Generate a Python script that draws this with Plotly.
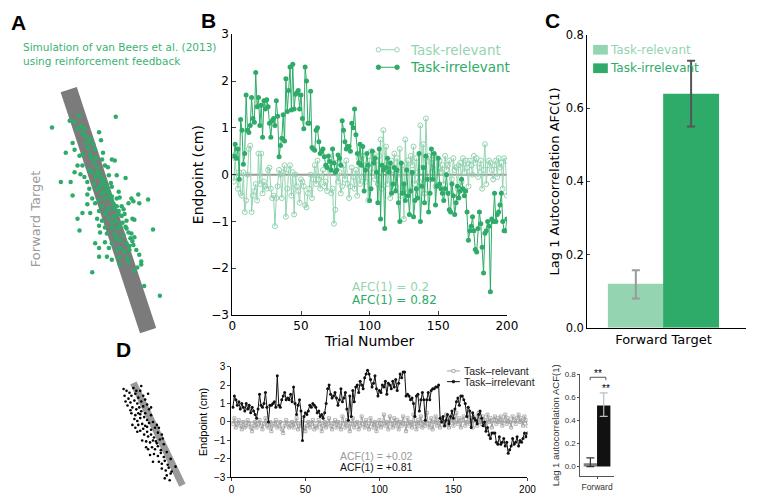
import plotly.graph_objects as go

W, H = 759, 497

# ---------------- DATA ----------------
trials = list(range(1, 201))

b_relevant = [
    -0.15, 0.35, -0.05, -0.30, 0.05, -0.40, -0.45, 0.05, -0.80, -0.55,
    0.00, 0.55, 0.62, -0.80, -0.45, -0.35, -0.20, -0.55, 0.45, -0.20,
    0.45, -0.40, -0.15, -0.25, -0.30, 0.10, 0.15, -0.30, -0.50, -0.45,
    -1.10, -0.50, -0.25, 0.10, 0.00, -0.50, 0.05, 0.20, -0.90, -0.30,
    0.10, 0.20, -0.45, 0.05, -0.85, 0.00, -0.25, -0.35, -0.60, -0.10,
    -0.15, -0.25, -0.65, -0.70, -0.40, -0.30, 0.00, -0.50, -0.10, 0.20,
    -0.20, 0.30, -0.10, -0.30, -0.05, 0.10, -0.25, -0.15, -0.35, 0.15,
    0.10, -0.40, -0.30, -1.05, -0.75, 0.25, -0.15, 0.05, -0.40, -0.25,
    0.20, -0.10, 0.30, -0.20, -0.50, -0.25, 0.15, -0.05, -0.30, 0.10,
    -0.45, 0.35, -0.20, -0.05, 0.40, 0.20, -0.15, 0.15, -0.55, 0.30,
    0.50, 0.05, 0.45, -0.10, 0.30, -0.20, 0.40, 0.75, -0.30, 0.95,
    0.20, 0.60, -0.20, 0.05, -0.50, 0.30, 0.10, 0.45, -0.25, 0.35,
    0.00, 0.55, -0.45, 0.20, -0.95, 0.75, 0.10, 0.30, -0.35, 0.40,
    0.20, 0.60, -0.20, 0.35, 0.05, -0.15, 1.05, 0.15, 0.65, -0.40,
    1.20, 0.30, 0.40, -0.10, 0.25, 0.05, 0.40, -0.25, 0.35, 0.15,
    0.30, 0.05, 0.20, -0.20, 0.40, 0.10, 0.20, 0.30, -0.40, -0.10,
    0.35, 0.10, 0.15, -0.30, 0.20, 0.25, -0.15, 0.35, 0.05, 0.30,
    0.15, -0.25, 0.30, 0.20, 0.00, 0.40, 0.25, 0.35, -0.05, 0.15,
    0.30, -0.30, 0.10, 0.65, -0.20, 0.20, 0.30, 0.25, 0.10, -0.10,
    0.20, 0.30, -0.05, 0.35, 0.15, 0.25, -0.30, 0.35, 0.30, -0.45,
]

b_irrelevant = [
    0.40, 0.65, 0.35, 0.55, -0.10, 1.18, 0.95, 0.22, 0.45, 1.70,
    0.95, 0.90, 1.05, 1.65, 1.20, 1.12, 2.18, 1.45, 1.65, 1.05,
    1.48, 0.80, 1.58, 1.40, 1.60, 1.45, 1.10, 0.80, 1.15, 1.20,
    1.05, 1.58, 1.25, 0.38, 0.62, 0.78, 1.28, 0.72, 2.05, 1.35,
    1.80, 2.30, 1.38, 2.36, 1.40, 1.72, 1.75, 1.80, 1.40, 1.70,
    1.20, 0.98, 2.30, 2.00, 1.10, 1.10, 1.78, 0.58, 0.55, 0.52,
    0.95, 1.00, 0.70, 0.45, 0.50, 0.55, 0.38, 0.20, 0.15, 0.40,
    0.28, 0.10, 0.55, 0.25, 0.05, 0.10, 0.42, 0.35, 0.20, 1.15,
    0.95, 0.70, 0.55, 0.60, 0.60, 0.50, 1.10, 1.00, 1.40, 0.85,
    0.45, 0.25, 0.65, 0.20, 0.60, -0.35, 0.10, 0.45, 0.20, -0.55,
    -0.30, 0.50, 0.25, 0.35, 0.05, -0.60, 0.55, -0.95, 0.20, 0.10,
    -1.15, 0.15, 0.35, 0.05, 0.25, -0.40, -0.20, 0.15, -0.35, 0.10,
    -0.60, -1.00, 0.25, -0.40, -0.20, -0.55, 0.10, -0.45, -0.85, -0.35,
    0.05, -0.90, -0.55, -0.30, -0.50, 0.45, -1.00, -0.25, 0.15, -0.60,
    0.40, -0.10, -0.80, -0.40, 0.55, -0.10, 0.45, -0.65, -0.25, 0.35,
    -0.20, -0.30, -0.40, -0.55, -0.30, 0.00, -0.40, -0.75, -0.80, -0.20,
    -0.45, -0.85, -0.60, -0.25, -0.50, -0.35, -0.10, -0.30, -0.45, -0.35,
    -0.80, -1.40, -1.20, -1.10, -0.90, -1.20, -1.60, -1.65, -1.15, -0.80,
    -1.05, -1.55, -2.10, -1.25, -1.20, -1.00, -1.10, -2.50, -0.95, -1.00,
    -0.40, -1.00, -0.85, -0.80, -0.65, -0.40, -1.00, -1.20, -1.20, -0.95,
]

d_relevant = [
    -0.1, 0.2, -0.3, -0.1, 0.1, -0.2, -0.4, 0.0, -0.3, -0.2,
    0.1, -0.1, -0.3, -0.5, -0.2, 0.0, -0.3, -0.1, 0.1, -0.2,
    -0.4, -0.1, 0.2, -0.2, -0.3, 0.0, -0.5, -0.2, -0.1, 0.1,
    -0.3, -0.2, 0.0, -0.4, -0.6, -0.2, 0.1, -0.1, -0.3, -0.2,
    0.0, -0.3, -0.1, 0.2, -0.4, -0.2, -0.1, 0.1, -0.3, -0.5,
    -0.2, 0.0, -0.3, -0.1, 0.1, -0.4, -0.2, -0.3, 0.1, -0.1,
    -0.5, -0.2, 0.0, -0.3, -0.1, 0.2, -0.2, -0.4, -0.1, 0.1,
    -0.3, 0.0, -0.2, -0.4, 0.3, -0.1, -0.3, 0.1, -0.2, -0.5,
    -0.1, 0.2, -0.3, -0.1, 0.0, -0.4, -0.2, 0.3, -0.1, -0.3,
    0.1, -0.2, -0.4, 0.2, -0.1, -0.3, 0.0, -0.5, -0.2, 0.1,
    -0.3, -0.1, 0.4, -0.2, 0.0, -0.4, 0.3, -0.1, -0.3, 0.2,
    -0.2, 0.1, -0.4, 0.0, -0.2, 0.3, -0.1, -0.5, 0.2, -0.2,
    0.0, -0.3, 0.4, -0.1, -0.4, 0.1, -0.2, 0.3, -0.3, 0.0,
    -0.2, 0.5, -0.1, -0.3, 0.2, -0.4, 0.0, 0.3, -0.2, 0.1,
    -0.3, 0.2, 0.0, -0.2, 0.4, -0.1, -0.3, 0.1, 0.3, -0.2,
    0.0, 0.5, -0.1, 0.2, -0.3, 0.1, 0.3, -0.2, 0.0, 0.4,
    -0.1, 0.2, -0.3, 0.1, 0.3, -0.2, 0.5, 0.0, -0.1, 0.3,
    0.1, -0.2, 0.4, 0.0, 0.2, -0.3, 0.1, 0.3, -0.1, 0.2,
    0.0, 0.3, -0.2, 0.1, 0.4, -0.1, 0.2, 0.0, -0.3, 0.3,
    0.1, -0.1, 0.2, 0.4, 0.0, 0.2, -0.2, 0.3, 0.1, -0.2,
]

d_irrelevant = [
    0.8, 1.4, 1.2, 0.9, 1.1, 0.7, 1.0, 0.8, 0.6, 1.0,
    0.7, 0.9, 0.5, 0.8, 0.6, 0.4, 0.2, 0.7, 1.5, 0.9,
    0.8, 1.0, 1.6, 0.8, 0.0, 0.9, 0.9, 1.0, 1.1, 0.8,
    2.5, 0.9, 0.8, 1.2, 1.4, 1.6, 1.2, 1.3, 1.2, 1.5,
    1.1, 1.9, 1.0, 0.4, 0.9, 1.2, 0.6, -1.0, 0.3, 0.5,
    0.4, 0.6, 0.9, 0.8, 1.0, 0.9, 0.8, 0.5, 0.6, 0.3,
    0.4, 0.2, 0.5, 1.0, 1.8, 2.0, 1.5, 1.3, 1.4, 1.6,
    1.3, 0.9, 1.2, 1.8, 1.1, 1.3, 1.6, 0.7, 0.1, 1.4,
    0.3, 1.7, 1.1, 1.9, 2.0, 1.6, 2.2, 2.0, 1.8, 2.4,
    2.6, 2.8, 2.6, 2.3, 1.9, 2.1, 2.5, 1.8, 1.4, 1.7,
    1.6, 2.0, 1.9, 2.2, 1.5, 2.1, 2.0, 1.8, 2.2, 1.9,
    2.3, 1.7, 2.1, 2.6, 2.4, 2.7, 2.7, 1.4, 1.5, 1.4,
    1.2, 1.3, 1.0, 0.3, 1.4, 1.5, 0.6, 1.2, 1.6, 1.2,
    0.1, 1.2, 1.6, 1.2, 1.7, 1.8, 1.8, 1.9, 1.9, 2.0,
    0.2, 0.0, 0.3, -0.2, 0.1, 0.4, -0.1, 0.3, 0.6, 0.2,
    0.7, 1.1, 1.3, 0.9, 1.4, 1.4, 1.2, 1.0, 0.3, 0.8,
    0.6, -0.3, 0.5, 0.2, 0.1, -0.1, 0.4, 0.6, 0.2, -0.2,
    0.0, -0.5, -0.3, -0.7, -0.9, -0.6, -0.6, -0.6, -1.1, -1.2,
    -0.8, -1.2, -1.1, -0.9, -1.3, -1.1, -1.7, -1.5, -1.3, -0.9,
    -1.2, -1.1, -0.8, -1.3, -1.0, -1.1, -0.9, -0.6, -0.8, -0.6,
]

# Panel A scatter (panel coordinate frame)
a_x = [49, 114, 67, 72, 77, 79, 97, 83, 87, 99, 70, 63, 72, 77, 80, 88, 93, 100, 110, 113,
       103, 75, 80, 87, 72, 78, 82, 90, 97, 107, 115, 124, 58, 68, 85, 92, 100, 103, 110, 87,
       95, 102, 107, 117, 70, 85, 90, 97, 103, 110, 115, 130, 137, 147, 127, 132, 138, 85, 93, 100,
       107, 113, 120, 80, 88, 97, 103, 112, 117, 123, 75, 95, 100, 107, 115, 125, 133, 77, 97, 103,
       110, 118, 125, 152, 98, 105, 113, 122, 130, 133, 93, 103, 110, 118, 125, 132, 97, 107, 115, 123,
       97, 105, 110, 117, 118, 127, 140, 140, 90, 133, 143, 159,
       75, 80, 84, 86, 89, 92, 95, 96, 99, 101, 104, 106, 108, 110, 112, 115, 117, 120, 121, 124,
       127, 129, 131, 135, 128, 138, 91, 94, 98, 105, 111, 114, 119, 126, 136, 82, 88, 101, 106, 100,
       93, 109, 118, 122, 131, 116, 128]
a_y = [124, 113, 117, 118, 112, 123, 129, 133, 137, 137, 140, 150, 147, 153, 152, 152, 147, 157, 157, 158,
       163, 163, 163, 168, 170, 172, 175, 170, 173, 173, 173, 176, 180, 180, 180, 182, 182, 180, 185, 187,
       188, 190, 192, 190, 194, 193, 197, 198, 197, 200, 197, 197, 193, 198, 202, 200, 202, 203, 202, 205,
       207, 208, 205, 212, 212, 210, 213, 215, 213, 213, 218, 218, 220, 218, 220, 220, 219, 230, 225, 227,
       227, 225, 228, 229, 232, 233, 233, 235, 233, 237, 243, 242, 243, 240, 243, 245, 248, 248, 250, 252,
       257, 257, 260, 258, 265, 263, 262, 265, 273, 272, 287, 297,
       125, 130, 140, 145, 155, 160, 165, 170, 175, 178, 185, 188, 195, 195, 203, 205, 210, 215, 222, 226,
       232, 238, 241, 250, 250, 255, 141, 155, 185, 210, 222, 238, 248, 258, 268, 125, 135, 150, 165, 192,
       175, 181, 196, 208, 218, 228, 246]
a_target_x = [66, 147]
a_target_y = [85, 333]

# Panel D (left) scatter
d_sc_x = [122, 125, 132, 140, 139, 123, 127, 130, 134, 137, 142, 129, 133, 136, 140, 144, 126, 131, 135, 138,
          142, 146, 130, 134, 137, 140, 144, 148, 133, 136, 139, 143, 146, 150, 131, 137, 141, 144, 148, 152,
          139, 142, 146, 150, 154, 143, 147, 150, 153, 157, 145, 149, 152, 156, 159, 151, 154, 157, 160, 163,
          153, 157, 160, 163, 166, 158, 161, 164, 167, 161, 165, 168, 171, 166, 170, 128, 135, 147, 124, 150,
          156, 161, 136, 145, 152, 170, 175, 164, 129, 139, 146, 155, 158, 147, 141, 134, 149, 162, 169]
d_sc_y = [393, 395, 392, 390, 395, 400, 403, 400, 398, 402, 400, 407, 405, 408, 406, 404, 410, 412, 414, 412,
          411, 409, 418, 420, 418, 416, 418, 414, 424, 426, 423, 422, 425, 420, 430, 430, 429, 431, 428, 427,
          436, 434, 437, 435, 433, 440, 442, 440, 443, 438, 447, 448, 446, 449, 445, 453, 455, 452, 456, 450,
          460, 462, 459, 463, 458, 468, 470, 467, 471, 475, 477, 474, 478, 482, 480, 397, 395, 398, 406, 412,
          430, 440, 437, 453, 468, 465, 473, 485, 415, 419, 432, 447, 433, 455, 446, 433, 461, 444, 487]
d_target_x = [132, 182]
d_target_y = [387, 492]

# Panel C bars
c_labels = ["Task-relevant", "Task-irrelevant"]
c_values = [0.12, 0.64]
c_err_lo = [0.08, 0.55]
c_err_hi = [0.157, 0.73]

# Panel D (right) bars
dr_values = [0.03, 0.53]
dr_err_lo = [0.0, 0.435]
dr_err_hi = [0.075, 0.64]

# ---------------- STYLE ----------------
LIGHT = "#94d4b1"
DARK = "#2eab68"
TXT_GREEN = "#3cb371"
GRAY_T = "#7b7b7b"
FONT = "DejaVu Sans"
ARIAL = "Liberation Sans"


def px(x):
    return x / W


def py(y):
    return 1 - y / H


fig = go.Figure()

# ---- Panel A ----
fig.add_trace(go.Scatter(x=a_target_x, y=a_target_y, mode="lines",
                         line=dict(color=GRAY_T, width=17), xaxis="x", yaxis="y",
                         hoverinfo="skip"))
fig.add_trace(go.Scatter(x=a_x, y=a_y, mode="markers",
                         marker=dict(color=DARK, size=4.5), xaxis="x", yaxis="y"))

# ---- Panel B ----
fig.add_trace(go.Scatter(x=trials, y=b_relevant, mode="lines+markers",
                         line=dict(color=LIGHT, width=1),
                         marker=dict(symbol="circle-open", size=5, color=LIGHT, line=dict(width=1)),
                         xaxis="x2", yaxis="y2"))
fig.add_trace(go.Scatter(x=trials, y=b_irrelevant, mode="lines+markers",
                         line=dict(color=DARK, width=1),
                         marker=dict(symbol="circle", size=5, color=DARK),
                         xaxis="x2", yaxis="y2"))

# ---- Panel C ----
fig.add_trace(go.Bar(x=[0.306], y=[c_values[0]], width=[0.352],
                     marker=dict(color=LIGHT, line=dict(width=0)),
                     error_y=dict(type="data", symmetric=False,
                                  array=[c_err_hi[0] - c_values[0]],
                                  arrayminus=[c_values[0] - c_err_lo[0]],
                                  color="#9a9a9a", thickness=2, width=4),
                     xaxis="x3", yaxis="y3"))
fig.add_trace(go.Bar(x=[0.654], y=[c_values[1]], width=[0.352],
                     marker=dict(color=DARK, line=dict(width=0)),
                     error_y=dict(type="data", symmetric=False,
                                  array=[c_err_hi[1] - c_values[1]],
                                  arrayminus=[c_values[1] - c_err_lo[1]],
                                  color="#555555", thickness=2, width=4),
                     xaxis="x3", yaxis="y3"))

# ---- Panel D left ----
fig.add_trace(go.Scatter(x=d_target_x, y=d_target_y, mode="lines",
                         line=dict(color="#9a9a9a", width=7), xaxis="x4", yaxis="y4"))
fig.add_trace(go.Scatter(x=d_sc_x, y=d_sc_y, mode="markers",
                         marker=dict(color="black", size=2.6), xaxis="x4", yaxis="y4"))

# ---- Panel D middle ----
fig.add_trace(go.Scatter(x=trials, y=d_relevant, mode="lines+markers",
                         line=dict(color="#a0a0a0", width=1),
                         marker=dict(symbol="square-open", size=3, color="#a0a0a0", line=dict(width=0.8)),
                         xaxis="x5", yaxis="y5"))
fig.add_trace(go.Scatter(x=trials, y=d_irrelevant, mode="lines+markers",
                         line=dict(color="#111111", width=1),
                         marker=dict(symbol="circle", size=3, color="#111111"),
                         xaxis="x5", yaxis="y5"))

# ---- Panel D right ----
fig.add_trace(go.Bar(x=[0.3], y=[dr_values[0]], width=[0.4],
                     marker=dict(color="#7d7d7d", line=dict(width=0)),
                     error_y=dict(type="data", symmetric=False,
                                  array=[dr_err_hi[0] - dr_values[0]],
                                  arrayminus=[dr_values[0] - dr_err_lo[0]],
                                  color="#333333", thickness=1.2, width=4),
                     xaxis="x6", yaxis="y6"))
fig.add_trace(go.Bar(x=[0.7], y=[dr_values[1]], width=[0.4],
                     marker=dict(color="#111111", line=dict(width=0)),
                     error_y=dict(type="data", symmetric=False,
                                  array=[dr_err_hi[1] - dr_values[1]],
                                  arrayminus=[dr_values[1] - dr_err_lo[1]],
                                  color="#bdbdbd", thickness=1.2, width=4),
                     xaxis="x6", yaxis="y6"))

hidden = dict(visible=False, showgrid=False, zeroline=False)

shapes = [
    dict(type="line", xref="x2", yref="y2", x0=0, x1=200, y0=0, y1=0,
         line=dict(color="#9a9a9a", width=2), layer="below"),
    dict(type="line", xref="x5", yref="y5", x0=0, x1=200, y0=0, y1=0,
         line=dict(color="#888888", width=1), layer="below"),
]

annotations = []

# panel letters
for lab, x, y in [("A", 15, 16), ("B", 209, 14), ("C", 560, 14), ("D", 122, 352)]:
    annotations.append(dict(text=f"<b>{lab}</b>", x=px(x), y=py(y), xref="paper", yref="paper",
                            showarrow=False, font=dict(family=ARIAL, size=21, color="black"),
                            xanchor="center", yanchor="middle"))

# Panel A texts
annotations.append(dict(text="Simulation of van Beers et al. (2013)<br>using reinforcement feedback",
                        x=px(17), y=py(48), xref="paper", yref="paper", showarrow=False,
                        align="left", xanchor="left", yanchor="middle",
                        font=dict(family=FONT, size=10.5, color=TXT_GREEN)))
annotations.append(dict(text="Forward Target", x=px(32), y=py(218), xref="paper", yref="paper",
                        showarrow=False, textangle=-90, xanchor="center", yanchor="middle",
                        font=dict(family=FONT, size=13, color="#9a9a9a")))

# Panel B legend
for (yy, col, sym, lab) in [(44, LIGHT, "open", "Task-relevant"), (62, DARK, "fill", "Task-irrelevant")]:
    shapes.append(dict(type="line", xref="paper", yref="paper", x0=px(382), x1=px(401),
                       y0=py(yy), y1=py(yy), line=dict(color=col, width=1)))
    for cx in (382, 401):
        shapes.append(dict(type="circle", xref="paper", yref="paper",
                           x0=px(cx - 2.3), x1=px(cx + 2.3), y0=py(yy - 2.3), y1=py(yy + 2.3),
                           line=dict(color=col, width=1),
                           fillcolor=("white" if sym == "open" else col)))
    annotations.append(dict(text=lab, x=px(412), y=py(yy), xref="paper", yref="paper",
                            showarrow=False, xanchor="left", yanchor="middle",
                            font=dict(family=FONT, size=13.5, color=col)))

annotations.append(dict(text="AFC(1) = 0.2", x=px(353), y=py(288.5), xref="paper", yref="paper",
                        showarrow=False, xanchor="left", yanchor="middle",
                        font=dict(family=FONT, size=12, color=LIGHT)))
annotations.append(dict(text="AFC(1) = 0.82", x=px(353), y=py(301.5), xref="paper", yref="paper",
                        showarrow=False, xanchor="left", yanchor="middle",
                        font=dict(family=FONT, size=12, color=DARK)))

# Panel C legend
for (yy, col, lab) in [(44, LIGHT, "Task-relevant"), (63, DARK, "Task-irrelevant")]:
    shapes.append(dict(type="rect", xref="paper", yref="paper", x0=px(601), x1=px(616),
                       y0=py(yy - 5), y1=py(yy + 5), line=dict(width=0), fillcolor=col))
    annotations.append(dict(text=lab, x=px(616), y=py(yy), xref="paper", yref="paper",
                            showarrow=False, xanchor="left", yanchor="middle",
                            font=dict(family=FONT, size=12, color=col)))

# Panel D middle legend
for (yy, col, sym, lab) in [(374.5, "#a0a0a0", "square-open", "Task\u2013relevant"),
                            (385.5, "#111111", "circle", "Task\u2013irrelevant")]:
    shapes.append(dict(type="line", xref="paper", yref="paper", x0=px(452), x1=px(465),
                       y0=py(yy), y1=py(yy), line=dict(color=col, width=1)))
    if sym == "square-open":
        shapes.append(dict(type="rect", xref="paper", yref="paper", x0=px(457), x1=px(460),
                           y0=py(yy - 1.5), y1=py(yy + 1.5), line=dict(color=col, width=0.8),
                           fillcolor="white"))
    else:
        shapes.append(dict(type="circle", xref="paper", yref="paper", x0=px(457), x1=px(460),
                           y0=py(yy - 1.5), y1=py(yy + 1.5), line=dict(color=col, width=0.5),
                           fillcolor=col))
    annotations.append(dict(text=lab, x=px(467), y=py(yy), xref="paper", yref="paper",
                            showarrow=False, xanchor="left", yanchor="middle",
                            font=dict(family=ARIAL, size=10.5, color="#222222")))

annotations.append(dict(text="ACF(1) = +0.02", x=px(380), y=py(462), xref="paper", yref="paper",
                        showarrow=False, xanchor="center", yanchor="middle",
                        font=dict(family=ARIAL, size=10.5, color="#9a9a9a")))
annotations.append(dict(text="ACF(1) = +0.81", x=px(380), y=py(473.5), xref="paper", yref="paper",
                        showarrow=False, xanchor="center", yanchor="middle",
                        font=dict(family=ARIAL, size=10.5, color="#111111")))

# Panel D right significance marks
shapes.append(dict(type="path", xref="paper", yref="paper",
                   path=f"M {px(598)} {py(384)} L {px(598)} {py(381)} L {px(614)} {py(381)} L {px(614)} {py(384)}",
                   line=dict(color="#555555", width=1)))
annotations.append(dict(text="**", x=px(606), y=py(377), xref="paper", yref="paper",
                        showarrow=False, xanchor="center", yanchor="middle",
                        font=dict(family=ARIAL, size=10, color="black")))
annotations.append(dict(text="**", x=px(614), y=py(393), xref="paper", yref="paper",
                        showarrow=False, xanchor="center", yanchor="middle",
                        font=dict(family=ARIAL, size=10, color="black")))

axis_common = dict(showgrid=False, zeroline=False, showline=True, linecolor="black", linewidth=1)

fig.update_layout(
    width=W, height=H,
    margin=dict(l=0, r=0, t=0, b=0),
    paper_bgcolor="white", plot_bgcolor="rgba(0,0,0,0)",
    showlegend=False,
    barmode="overlay",
    hovermode=False,
    font=dict(family=FONT, color="black"),
    # A
    xaxis=dict(domain=[0, px(230)], range=[0, 230], **hidden),
    yaxis=dict(domain=[py(340), py(60)], range=[340, 60], **hidden),
    # B
    xaxis2=dict(domain=[px(233), px(513)], range=[0, 200], anchor="y2",
                tickvals=[0, 50, 100, 150, 200], ticks="inside", ticklen=4,
                tickfont=dict(family=FONT, size=12), title=dict(text="Trial Number",
                font=dict(family=FONT, size=14), standoff=2), **axis_common),
    yaxis2=dict(domain=[py(317), py(28)], range=[-3, 3], anchor="x2",
                tickvals=[-3, -2, -1, 0, 1, 2, 3], ticks="inside", ticklen=4,
                tickfont=dict(family=FONT, size=12), title=dict(text="Endpoint (cm)",
                font=dict(family=FONT, size=14), standoff=4), **axis_common),
    # C
    xaxis3=dict(domain=[px(595), px(757)], range=[0, 1], anchor="y3",
                tickvals=[0.48], ticktext=["Forward Target"], ticks="",
                tickfont=dict(family=FONT, size=13), **axis_common),
    yaxis3=dict(domain=[py(330), py(29)], range=[0, 0.8], anchor="x3",
                tickvals=[0, 0.2, 0.4, 0.6, 0.8], ticktext=["0.0", "0.2", "0.4", "0.6", "0.8"],
                ticks="inside", ticklen=3,
                tickfont=dict(family=FONT, size=11.5),
                title=dict(text="Lag 1 Autocorrelation AFC(1)", font=dict(family=FONT, size=13), standoff=3),
                **axis_common),
    # D left
    xaxis4=dict(domain=[px(100), px(240)], range=[100, 240], anchor="y4", **hidden),
    yaxis4=dict(domain=[py(497), py(345)], range=[497, 345], anchor="x4", **hidden),
    # D middle
    xaxis5=dict(domain=[px(232), px(534)], range=[0, 200], anchor="y5",
                tickvals=[0, 50, 100, 150, 200], ticks="outside", ticklen=3,
                tickfont=dict(family=ARIAL, size=10), **axis_common),
    yaxis5=dict(domain=[py(484), py(370)], range=[-3, 3], anchor="x5",
                tickvals=[-3, -2, -1, 0, 1, 2, 3], ticks="outside", ticklen=3,
                tickfont=dict(family=ARIAL, size=10),
                title=dict(text="Endpoint (cm)", font=dict(family=ARIAL, size=11), standoff=4),
                **axis_common),
    # D right
    xaxis6=dict(domain=[px(588), px(622)], range=[0, 1], anchor="y6",
                tickvals=[0.5], ticktext=["Forward"], ticks="outside", ticklen=2,
                tickfont=dict(family=ARIAL, size=8.5, color="#333333"),
                showgrid=False, zeroline=False, showline=True, linecolor="#555555", linewidth=1),
    yaxis6=dict(domain=[py(483), py(378)], range=[-0.085, 0.8], anchor="x6",
                tickvals=[0, 0.2, 0.4, 0.6, 0.8], ticktext=["0.0", "0.2", "0.4", "0.6", "0.8"],
                ticks="outside", ticklen=2,
                tickfont=dict(family=ARIAL, size=8, color="#333333"),
                title=dict(text="Lag 1 autocorrelation ACF(1)", font=dict(family=ARIAL, size=9.5, color="#333333"),
                           standoff=3),
                showgrid=False, zeroline=False, showline=True, linecolor="#555555", linewidth=1),
    shapes=shapes,
    annotations=annotations,
)

POST = """
(function(){
  var els=[document.documentElement, document.body];
  els.forEach(function(e){e.style.margin='0';e.style.padding='0';e.style.overflow='hidden';
    e.style.width='759px';e.style.height='497px';});
  var gd=document.querySelector('.plotly-graph-div');
  if(gd && gd.parentElement){gd.parentElement.style.height='497px';gd.parentElement.style.overflow='hidden';}
})();
"""

fig.write_html("out.html", config={"displayModeBar": False}, post_script=POST)
